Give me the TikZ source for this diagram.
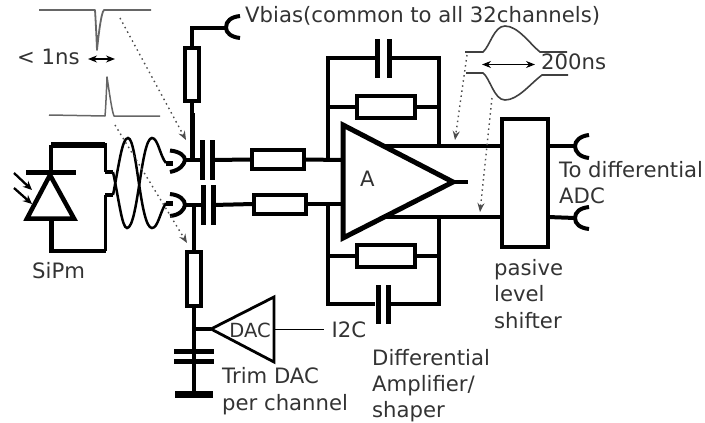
\documentclass[tikz,border=0pt]{standalone}
\usepackage{fontspec}
\setmainfont{DejaVu Sans}
\usetikzlibrary{arrows.meta}
\definecolor{txt}{HTML}{333333}
\definecolor{pulse}{HTML}{666666}
\tikzset{
  wire/.style={line width=4pt,line join=miter},
  res/.style={draw,line width=4pt,rectangle,inner sep=0pt,outer sep=0pt,fill=white},
  plate/.style={line width=5pt},
  lab/.style={anchor=base west,inner sep=0pt,font=\fontsize{21.2}{24}\selectfont,text=txt},
  plug/.style={line width=4pt},
  pair/.style={line width=2.5pt},
  graph line/.style={line width=1.8pt,color=pulse,line join=round},
  dim/.style={line width=1.3pt,{Stealth[length=9pt,width=7pt]}-{Stealth[length=9pt,width=7pt]}},
  hint/.style={line width=1.4pt,dash pattern=on 1.5pt off 3.6pt,color=black!70,-{Stealth[length=9pt,width=7pt,inset=3pt]}},
}
\begin{document}
\begin{tikzpicture}[x=1pt,y=-1pt]
\useasboundingbox (0,0) rectangle (705,423);
% terminals
\coordinate (dT) at (51,145);
\coordinate (dB) at (51,251);
\coordinate (sT) at (105,172);
\coordinate (sB) at (105,195);
\coordinate (pT) at (113,172);
\coordinate (pB) at (113,195);
\coordinate (inT) at (166,163);
\coordinate (inB) at (166,203);
\coordinate (cT) at (185,160);
\coordinate (cB) at (185,205);
\coordinate (capTl) at (202,160);
\coordinate (capTr) at (212,160);
\coordinate (capBl) at (203,205);
\coordinate (capBr) at (213,205);
\coordinate (ampIT) at (343,160);
\coordinate (ampIB) at (343,204);
\coordinate (railT) at (328,160);
\coordinate (railB) at (328,204);
\coordinate (tipA) at (453,182);
\coordinate (outT) at (439,146);
\coordinate (outB) at (439,217);
% resistors and blocks
\node[res,minimum width=14pt,minimum height=53pt] (rb1) at (192,74.5) {};
\node[res,minimum width=14pt,minimum height=54pt] (rb2) at (194,278.5) {};
\node[res,minimum width=52pt,minimum height=19pt] (ri1) at (278,159.5) {};
\node[res,minimum width=52pt,minimum height=19pt] (ri2) at (279.5,204) {};
\node[res,minimum width=58pt,minimum height=22pt] (rf1) at (386,106.5) {};
\node[res,minimum width=58pt,minimum height=22pt] (rf2) at (386,256) {};
\node[res,minimum width=46pt,minimum height=128pt] (shift) at (525,182.5) {};
% photodiode
\draw[line width=5.5pt] (dT) -- (105,145);
\draw[wire] (dT) -- (51,172);
\draw[line width=3pt] (105,143) -- (sT) (105,197) -- (sB) -- (105,251);
\draw[plate] (26,172) -- (76,172);
\draw[line width=4.5pt,line join=miter] (50,175) -- (74,218.5) -- (27,218.5) -- cycle;
\draw[line width=5pt] (dB) -- (51,219);
\draw[line width=4pt] (49,251) -- (106,251);
\draw[line width=2.3pt,-{Stealth[length=9pt,width=8pt]}] (14,173) -- (32,190);
\draw[line width=2.3pt,-{Stealth[length=9pt,width=8pt]}] (14,188) -- (32,204);
\draw[wire] (sT) -- (pT);
\draw[wire] (sB) -- (pB);
% twisted pair
\draw[pair] (pB) .. controls (119,165) and (122,138) .. (128,138)
  .. controls (137,138) and (140,228) .. (152,228)
  .. controls (158,228) and (160,212) .. (inB);
\draw[pair] (pT) .. controls (119,200) and (122,228) .. (127,228)
  .. controls (138,228) and (141,138) .. (152,138)
  .. controls (158,138) and (160,156) .. (inT);
\draw[line width=5pt] (inT) -- (173,163);
\draw[line width=5pt] (inB) -- (173,203);
% connectors
\draw[plug] (170,150.5) .. controls (180,151.5) and (185,156) .. (cT) .. controls (184,165) and (180,170) .. (170,172);
\draw[plug] (170,194) .. controls (180,195) and (185,200) .. (cB) .. controls (184,210) and (180,215) .. (170,216);
\draw[plug] (240,16) .. controls (231,17) and (226,21) .. (226,27.5) .. controls (226,33) and (231,37) .. (240,38);
\draw[plug] (589,135) .. controls (580,136) and (575,141) .. (575,146) .. controls (575,152) and (580,157) .. (589,158);
\draw[plug] (589,207) .. controls (580,208) and (575,212) .. (575,218) .. controls (575,224) and (580,228) .. (589,229);
% input caps
\draw[wire] (cT) -- (capTl) (cB) -- (capBl);
\draw[plate] (capTl) ++(0,-20) -- ++(0,40) (capTr) ++(0,-20) -- ++(0,40);
\draw[plate] (capBl) ++(0,-20) -- ++(0,40) (capBr) ++(0,-20) -- ++(0,40);
\draw[wire] (capTr) -- (ri1.west) (capBr) -- (ri2.west);
\draw[wire] (ri1.east) -- (ampIT);
\draw[wire] (ri2.east) -- (ampIB);
% bias branch
\draw[line width=5pt] (192,113) -- (192,160);
\draw[wire] (rb1.south) -- (192,113);
\draw[wire] (rb1.north) -- (192,27.5) -- (226,27.5);
\draw[wire] (194,205) -- (rb2.north);
\draw[wire] (rb2.south) -- (194,394);
\draw[wire] (194,329) -- (211,329);
\draw[plate] (174,351) -- (214,351);
\draw[plate] (174,361) -- (214,361);
\draw[line width=7pt] (175,394.5) -- (213,394.5);
% DAC
\draw[line width=2.8pt,line join=miter] (211,329) -- (274,297) -- (274,362) -- cycle;
\node[lab,anchor=base,font=\fontsize{19.5}{22}\selectfont] (dac) at (250,337) {DAC};
\node[lab,anchor=base,inner xsep=8pt] (i2c) at (349,337) {I2C};
\draw[line width=1pt] (274,329) -- (i2c.west |- 0,329);
% amplifier
\draw[wire] (railT) -- (328,58) -- (375,58);
\draw[wire] (railB) -- (328,303.5) -- (375,303.5);
\draw[wire] (328,106.5) -- (rf1.west);
\draw[wire] (328,256) -- (rf2.west);
\draw[wire] (rf1.east) -- (439,106.5);
\draw[wire] (rf2.east) -- (439,256);
\draw[plate] (377,39) -- (377,78) (389,39) -- (389,78);
\draw[plate] (378,285) -- (378,324) (388,285) -- (388,324);
\draw[wire] (389,58) -- (439,58) -- (outT);
\draw[wire] (388,303.5) -- (439,303.5) -- (outB);
\draw[wire] (385,146) -- (shift.west |- outT);
\draw[wire] (385,217) -- (shift.west |- outB);
\draw[line width=5pt,line join=miter,fill=white] (343,125) -- (tipA) -- (343,238) -- cycle;
\draw[wire] (tipA) -- (468,182);
\draw[wire] (shift.east |- outT) -- (575,146);
\draw[wire] (shift.east |- outB) -- (575,218);
\draw[wire] (railT) -- (ampIT);
\draw[wire] (railB) -- (ampIB);
% pulses
\draw[graph line] (39,10) -- (95,10) .. controls (96,25) and (97,50) .. (97,50) .. controls (98,40) and (101,12) .. (104,10) -- (151,10);
\draw[graph line,line width=1.5pt] (49,115) -- (105,116) .. controls (106,105) and (107,77) .. (107,77) .. controls (109,90) and (112,112) .. (114,116) -- (160,116);
\draw[dim] (88,59) -- (115,59);
\draw[line width=1.6pt,color=black!75] (465,52) -- (483,52) .. controls (490,46) and (494,26) .. (505,26) .. controls (518,26) and (530,44) .. (540,52) -- (567,52);
\draw[line width=1.6pt,color=black!75] (466,73) -- (483,73) .. controls (490,78) and (494,100) .. (505,100) .. controls (518,100) and (530,84) .. (542,75) -- (568,75);
\draw[dim] (482,64.5) -- (535,64.5);
\draw[hint] (120,18) -- (186,140);
\draw[hint] (115,125) -- (187,243);
\draw[hint] (467,55) -- (455,140);
\draw[hint] (492,98) -- (480,212);
% labels
\node[lab] at (245,23) {Vbias(common to all 32channels)};
\node[lab] at (17,64) {< 1ns};
\node[lab] at (32,278) {SiPm};
\node[lab] at (360,186) {A};
\node[lab] at (541,69) {200ns};
\node[lab] at (559,177) {To differential};
\node[lab] at (559,203) {ADC};
\node[lab] at (494,275) {pasive};
\node[lab] at (494,301) {level};
\node[lab] at (494,328) {shifter};
\node[lab] at (372,365) {Differential};
\node[lab] at (372,391) {Amplifier/};
\node[lab] at (372,417) {shaper};
\node[lab] at (222,383) {Trim DAC};
\node[lab] at (222,410) {per channel};
\end{tikzpicture}
\end{document}
